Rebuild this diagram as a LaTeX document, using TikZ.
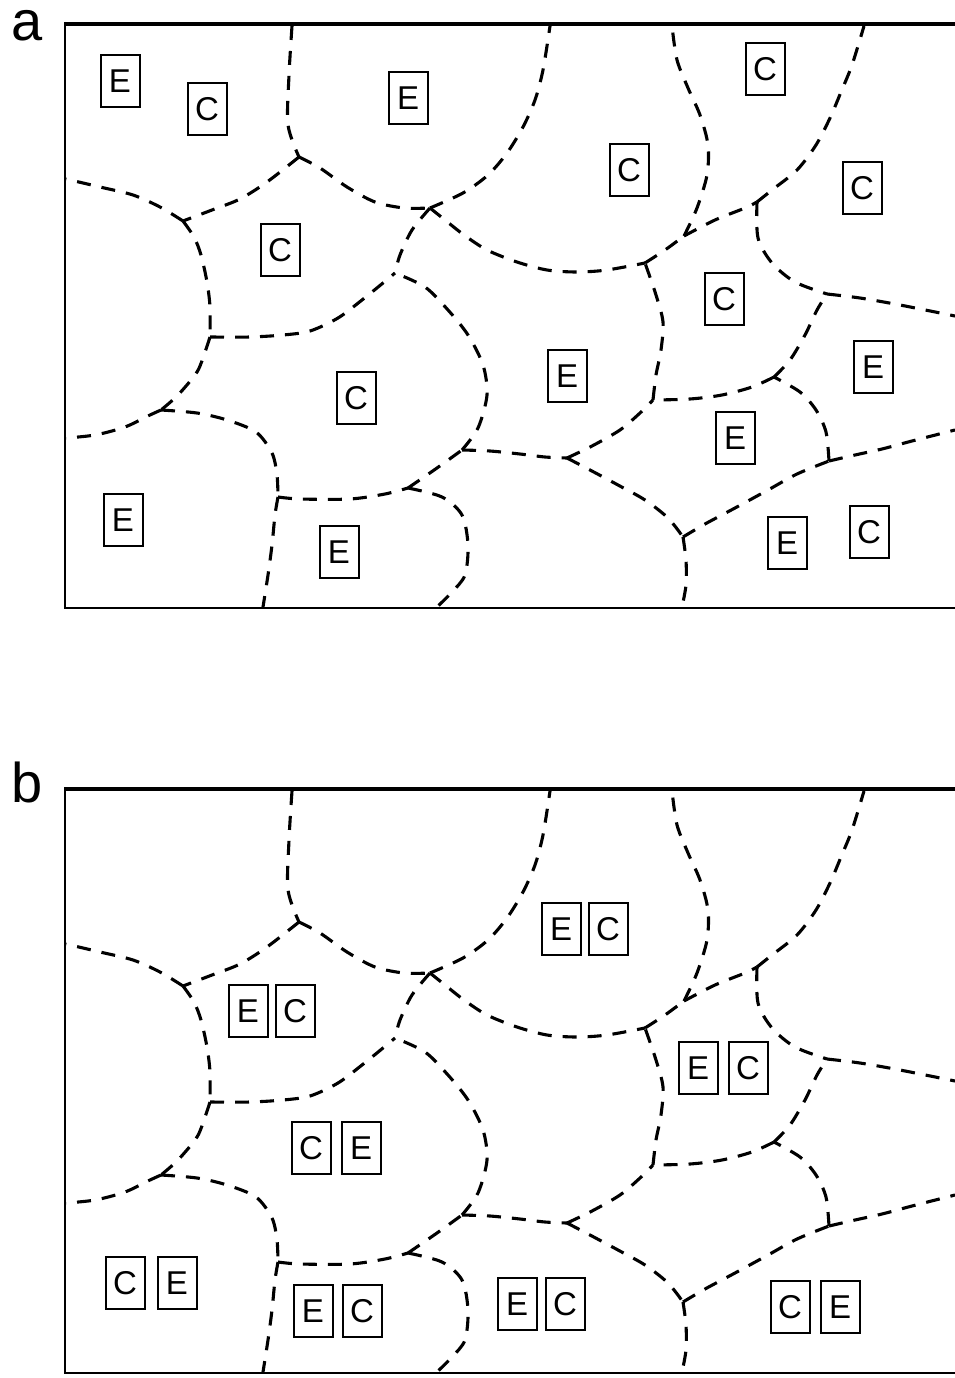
\documentclass[tikz,border=0pt]{standalone}
\usepackage{fontspec}
\setmainfont{Liberation Sans}
\tikzset{
  cellb/.style={line width=3.1pt, dash pattern=on 14pt off 11pt},
  lbl/.style={draw, line width=2pt, minimum width=39pt, minimum height=52pt, inner sep=0pt, font=\fontsize{33}{33}\selectfont},
  framethin/.style={line width=2.8pt},
  framethick/.style={line width=4.4pt},
  panellbl/.style={anchor=base west, inner sep=0pt, font=\fontsize{56}{56}\selectfont},
}
\newcommand\cellnet{%
  \draw[framethick] (64,24) -- (955,24);
  \draw[framethin] (65,22) -- (65,608) -- (955,608);
  \coordinate (J1) at (299,157);
  \coordinate (J2) at (183,221);
  \coordinate (J3) at (430,208);
  \coordinate (J4) at (210,337);
  \coordinate (J5) at (395,273);
  \coordinate (J6) at (161,410);
  \coordinate (J7) at (278,497);
  \coordinate (J8) at (408,488);
  \coordinate (J9) at (462,450);
  \coordinate (J10) at (567,458);
  \coordinate (J11) at (653,400);
  \coordinate (J12) at (683,537);
  \coordinate (J13) at (829,461);
  \coordinate (J14) at (774,377);
  \coordinate (J15) at (827,294);
  \coordinate (J16) at (757,202);
  \coordinate (J17) at (684,236);
  \coordinate (J18) at (645,263);
  \draw[cellb] plot[smooth] coordinates {(292,26) (289,75) (288,125) (J1)};
  \draw[cellb] plot[smooth] coordinates {(J1) (267,182) (240,199) (212,210) (J2)};
  \draw[cellb] plot[smooth] coordinates {(J1) (320,168) (347,187) (375,202) (404,208) (J3)};
  \draw[cellb] plot[smooth] coordinates {(J3) (463,193) (488,175) (507,153) (523,127) (535,100) (543,70) (550,26)};
  \draw[cellb] plot[smooth] coordinates {(J3) (445,220) (464,235) (487,250) (517,262) (547,270) (577,272) (607,270) (J18)};
  \draw[cellb] plot[smooth] coordinates {(J3) (412,230) (400,255) (J5)};
  \draw[cellb] plot[smooth] coordinates {(J2) (160,207) (133,195) (100,187) (66,179)};
  \draw[cellb] plot[smooth] coordinates {(J2) (194,237) (201,255) (207,282) (210,307) (J4)};
  \draw[cellb] plot[smooth] coordinates {(J4) (250,337) (283,335) (310,331) (338,318) (362,300) (383,283) (J5)};
  \draw[cellb] plot[smooth] coordinates {(J4) (205,352) (197,372) (178,395) (J6)};
  \draw[cellb] plot[smooth] coordinates {(J6) (150,415) (125,427) (95,435) (66,438)};
  \draw[cellb] plot[smooth] coordinates {(J6) (197,413) (227,420) (256,432) (272,453) (277,475) (J7)};
  \draw[cellb] plot[smooth] coordinates {(J7) (275,515) (272,545) (268,575) (263,607)};
  \draw[cellb] plot[smooth] coordinates {(J7) (300,499) (350,499) (385,494) (J8)};
  \draw[cellb] plot[smooth] coordinates {(J8) (437,468) (J9)};
  \draw[cellb] plot[smooth] coordinates {(J8) (442,497) (462,515) (468,545) (465,575) (452,592) (437,607)};
  \draw[cellb] plot[smooth] coordinates {(J9) (478,428) (487,395) (483,365) (468,335) (448,310) (425,287) (J5)};
  \draw[cellb] plot[smooth] coordinates {(J9) (490,451) (520,454) (545,457) (J10)};
  \draw[cellb] plot[smooth] coordinates {(J10) (592,446) (620,430) (640,413) (J11)};
  \draw[cellb] plot[smooth] coordinates {(J10) (590,470) (618,485) (645,500) (668,518) (J12)};
  \draw[cellb] plot[smooth] coordinates {(J12) (686,560) (686,585) (682,607)};
  \draw[cellb] plot[smooth] coordinates {(J12) (705,524) (735,508) (768,490) (797,474) (J13)};
  \draw[cellb] plot[smooth] coordinates {(J13) (855,455) (882,449) (912,441) (955,430)};
  \draw[cellb] plot[smooth] coordinates {(J13) (826,432) (816,410) (800,392) (J14)};
  \draw[cellb] plot[smooth] coordinates {(J14) (752,387) (722,395) (690,399) (J11)};
  \draw[cellb] plot[smooth] coordinates {(J14) (790,360) (805,335) (817,310) (J15)};
  \draw[cellb] plot[smooth] coordinates {(J11) (656,375) (661,350) (663,322) (656,295) (J18)};
  \draw[cellb] plot[smooth] coordinates {(J18) (665,250) (J17)};
  \draw[cellb] plot[smooth] coordinates {(J17) (697,208) (707,175) (708,145) (700,115) (688,88) (677,60) (672,26)};
  \draw[cellb] plot[smooth] coordinates {(J17) (715,220) (745,208) (J16)};
  \draw[cellb] plot[smooth] coordinates {(J16) (772,190) (797,170) (816,145) (830,118) (841,92) (852,65) (864,26)};
  \draw[cellb] plot[smooth] coordinates {(J16) (758,238) (772,263) (795,282) (J15)};
  \draw[cellb] plot[smooth] coordinates {(J15) (860,298) (900,305) (955,316)};
}
\begin{document}
\begin{tikzpicture}[x=1pt,y=-1pt]
  \useasboundingbox (0,0) rectangle (955,1378);
  % panel a
  \node[panellbl] (la) at (11,41) {a};
  \begin{scope}
    \cellnet
  \end{scope}
  \node[lbl] (a1) at (120,81) {E};
  \node[lbl] (a2) at (207,109) {C};
  \node[lbl] (a3) at (408,98) {E};
  \node[lbl] (a4) at (280,250) {C};
  \node[lbl] (a5) at (629,170) {C};
  \node[lbl] (a6) at (765,69) {C};
  \node[lbl] (a7) at (862,188) {C};
  \node[lbl] (a8) at (724,299) {C};
  \node[lbl] (a9) at (356,398) {C};
  \node[lbl] (a10) at (567,376) {E};
  \node[lbl] (a11) at (873,367) {E};
  \node[lbl] (a12) at (735,438) {E};
  \node[lbl] (a13) at (123,520) {E};
  \node[lbl] (a14) at (339,552) {E};
  \node[lbl] (a15) at (787,543) {E};
  \node[lbl] (a16) at (869,532) {C};
  % panel b
  \node[panellbl] (lb) at (11,802) {b};
  \begin{scope}[yshift=-765pt]
    \cellnet
  \end{scope}
  \node[lbl] (b1) at (561,929) {E};
  \node[lbl] (b2) at (608,929) {C};
  \node[lbl] (b3) at (248,1011) {E};
  \node[lbl] (b4) at (295,1011) {C};
  \node[lbl] (b5) at (698,1068) {E};
  \node[lbl] (b6) at (748,1068) {C};
  \node[lbl] (b7) at (311,1148) {C};
  \node[lbl] (b8) at (361,1148) {E};
  \node[lbl] (b9) at (125,1283) {C};
  \node[lbl] (b10) at (177,1283) {E};
  \node[lbl] (b11) at (313,1311) {E};
  \node[lbl] (b12) at (362,1311) {C};
  \node[lbl] (b13) at (517,1304) {E};
  \node[lbl] (b14) at (565,1304) {C};
  \node[lbl] (b15) at (790,1307) {C};
  \node[lbl] (b16) at (840,1307) {E};
\end{tikzpicture}
\end{document}
